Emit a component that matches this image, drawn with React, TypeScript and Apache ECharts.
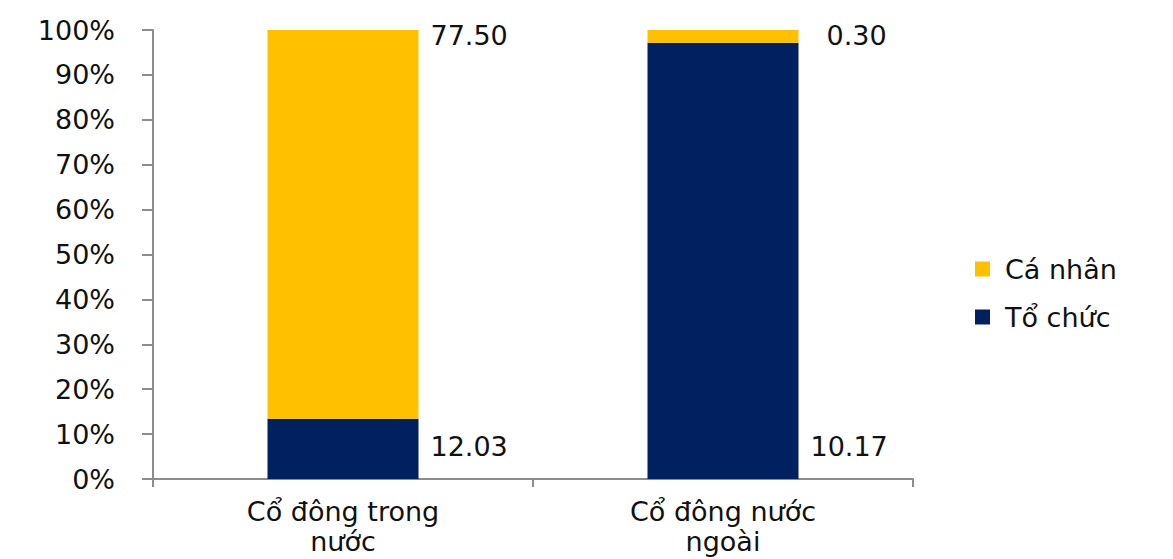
import React, { useEffect, useRef } from "react";
import * as echarts from "echarts";

const categories = ["Cổ đông trong\nnước", "Cổ đông nước\nngoài"];
const toChuc = [12.03, 10.17];
const caNhan = [77.5, 0.3];
const yTicks = [0, 10, 20, 30, 40, 50, 60, 70, 80, 90, 100];

const FONT = "DejaVu Sans";

export default function App() {
  const ref = useRef<HTMLDivElement>(null);
  useEffect(() => {
    document.body.style.margin = "0";
    if (!ref.current) return;
    const chart = echarts.init(ref.current, null, { renderer: "svg" });
    const totals = toChuc.map((v, i) => v + caNhan[i]);
    const pct = (arr: number[]) => arr.map((v, i) => (v / totals[i]) * 100);
    const tcPct = pct(toChuc);
    const cnPct = pct(caNhan);
    const cnOffsets = [[12, 5], [28, 5]];
    chart.setOption({
      animation: false,
      textStyle: { fontFamily: FONT },
      grid: { left: 153, right: 260, top: 30, bottom: 80 },
      legend: {
        orient: "vertical",
        left: 970,
        top: 249,
        data: ["Cá nhân", "Tổ chức"],
        itemWidth: 15,
        itemHeight: 15,
        itemGap: 18,
        icon: "rect",
        textStyle: {
          fontFamily: FONT,
          fontSize: 27,
          color: "#111",
          lineHeight: 30,
          padding: [0, 0, 0, 10],
        },
      },
      xAxis: {
        type: "category",
        data: categories,
        axisLine: { lineStyle: { color: "#8c8c8c", width: 2 } },
        axisTick: { show: true, length: 8, lineStyle: { color: "#8c8c8c", width: 2 } },
        axisLabel: {
          fontFamily: FONT,
          fontSize: 27,
          color: "#111",
          lineHeight: 30,
          margin: 17,
        },
      },
      yAxis: {
        type: "value",
        min: 0,
        max: 100,
        interval: 10,
        splitLine: { show: false },
        axisLine: { show: true, lineStyle: { color: "#8c8c8c", width: 2 } },
        axisTick: { show: true, length: 11, lineStyle: { color: "#8c8c8c", width: 2 } },
        axisLabel: {
          fontFamily: FONT,
          fontSize: 27,
          color: "#111",
          margin: 38,
          formatter: (v: number) => (yTicks.includes(v) ? `${v}%` : ""),
        },
      },
      series: [
        {
          name: "Tổ chức",
          type: "bar",
          stack: "total",
          barWidth: 151,
          itemStyle: { color: "#002060" },
          data: tcPct.map((v, i) => ({
            value: v,
            label: {
              show: true,
              position: ["100%", "100%"],
              align: "left",
              verticalAlign: "middle",
              offset: [12, -33],
              fontFamily: FONT,
              fontSize: 27,
              color: "#111",
              formatter: () => toChuc[i].toFixed(2),
            },
          })),
        },
        {
          name: "Cá nhân",
          type: "bar",
          stack: "total",
          barWidth: 151,
          itemStyle: { color: "#FFC000" },
          data: cnPct.map((v, i) => ({
            value: v,
            label: {
              show: true,
              position: ["100%", 0],
              align: "left",
              verticalAlign: "middle",
              offset: cnOffsets[i],
              fontFamily: FONT,
              fontSize: 27,
              color: "#111",
              formatter: () => caNhan[i].toFixed(2),
            },
          })),
        },
      ],
    });
    return () => chart.dispose();
  }, []);
  return <div ref={ref} style={{ width: 1173, height: 559 }} />;
}
